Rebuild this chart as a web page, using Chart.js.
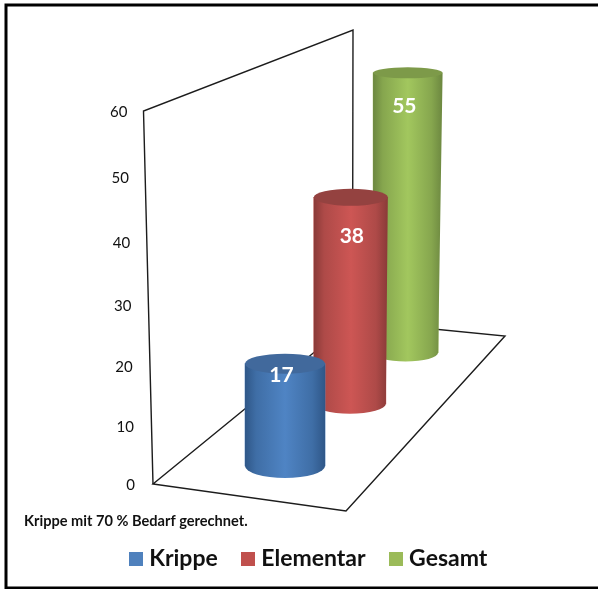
<!DOCTYPE html>
<html lang="de">
<head>
<meta charset="utf-8">
<style>html,body{margin:0;padding:0;background:#fff}canvas{display:block}</style>
<script src="https://cdn.jsdelivr.net/npm/chart.js@4/dist/chart.umd.js"></script>
</head>
<body>
<canvas id="c" width="598" height="589"></canvas>
<script>
// ---- data ----
const categories = ['Krippe', 'Elementar', 'Gesamt'];
const seriesValues = [17, 38, 55];
const depthSlots = [1, 2.08, 3.01];          // position of each cylinder along the floor
const footnote = 'Krippe mit 70 % Bedarf gerechnet.';
const tickStep = 10;
const axisMax = 60;

// ---- styles ----
const legendColors = ['#4f81bd', '#c0504d', '#9bbb59'];
const edgeColors = ['#2f5788', '#8a3a38', '#6c8740'];
const shoulderColors = ['#3f6ea6', '#ae4a48', '#86a64e'];
const midColors = ['#4f84c4', '#cd5654', '#a2c75e'];
const capColors = ['#41699c', '#944240', '#7d9a49'];
const barWidths = [80, 72, 65];
const topGrow = [0, 2, 4.5];
const topLean = [0, 1, 2.2];
const capRadii = [10, 8.5, 5.5];
const footRadii = [12, 10, 9];
const labelShift = [[-3.5, 12], [1, 39], [-3.5, 33]];
const depthAxes = [
  {min: -3.17, max: 58.83},
  {min: -14.94, max: 53.7},
  {min: -26.04, max: 47.3}
];
const wallPath = [[153, 484], [143.5, 111], [353, 30], [352.5, 321]];
const floorPath = [[352.5, 321], [153, 484], [346, 511], [505, 336], [352.5, 321]];

// Value axis that follows the slanted, receding back wall
class WallScale extends Chart.LinearScale {
  static id = 'wall';
  static defaults = Chart.LinearScale.defaults;
  fraction(v) {
    const t = (v - this.min) / (this.max - this.min);
    return t / (1 + 0.083 * (1 - t));
  }
  getPixelForValue(v) {
    return this.bottom - this.fraction(v) * (this.bottom - this.top);
  }
  getLabelItems(area) {
    const items = super.getLabelItems(area);
    items.forEach((item, i) => {
      const v = this.ticks[i] ? this.ticks[i].value : 0;
      item.options.translation[0] = 127.5 + 7.5 * (1 - this.fraction(v));
    });
    return items;
  }
}
Chart.register(WallScale);

function polyline(ctx, pts) {
  ctx.beginPath();
  pts.forEach((p, i) => i ? ctx.lineTo(p[0], p[1]) : ctx.moveTo(p[0], p[1]));
  ctx.stroke();
}

// Square legend swatches that sit close to their text
const legendSwatches = legendColors.map(color => {
  const c = document.createElement('canvas');
  c.width = 14;
  c.height = 14;
  const g = c.getContext('2d');
  g.fillStyle = color;
  g.fillRect(0, 0, 14, 14);
  return c;
});

const cylinderPlugin = {
  id: 'cylinders',
  beforeDraw(chart) {
    const ctx = chart.ctx;
    ctx.save();
    ctx.strokeStyle = '#000';
    ctx.lineWidth = 3;
    ctx.lineCap = 'butt';
    ctx.beginPath();
    ctx.moveTo(598, 5); ctx.lineTo(6, 5); ctx.lineTo(6, 588); ctx.lineTo(598, 588);
    ctx.stroke();
    ctx.restore();
  },
  beforeDatasetsDraw(chart) {
    const ctx = chart.ctx;
    ctx.save();
    ctx.strokeStyle = '#1c1c1c';
    ctx.lineWidth = 1.4;
    ctx.lineJoin = 'miter';
    polyline(ctx, wallPath);
    polyline(ctx, floorPath);
    ctx.restore();
  },
  afterDatasetDraw(chart, args) {
    const i = args.index;
    const bar = args.meta.data[0];
    const ctx = chart.ctx;
    const w = bar.width, x = bar.x, top = bar.y, base = bar.base;
    const tw = w + topGrow[i], tx = x + topLean[i];
    const left = x - w / 2, right = tx + tw / 2;
    const g = ctx.createLinearGradient(tx - tw / 2, 0, right, 0);
    g.addColorStop(0, edgeColors[i]);
    g.addColorStop(0.14, shoulderColors[i]);
    g.addColorStop(0.5, midColors[i]);
    g.addColorStop(0.84, shoulderColors[i]);
    g.addColorStop(1, edgeColors[i]);
    ctx.save();
    ctx.fillStyle = g;
    ctx.beginPath();
    ctx.moveTo(tx - tw / 2, top);
    ctx.lineTo(tx + tw / 2, top);
    ctx.lineTo(x + w / 2, base);
    ctx.ellipse(x, base, w / 2, footRadii[i], 0, 0, Math.PI);
    ctx.lineTo(left, base);
    ctx.closePath();
    ctx.fill();
    ctx.fillStyle = capColors[i];
    ctx.beginPath();
    ctx.ellipse(tx, top, tw / 2, capRadii[i], 0, 0, Math.PI * 2);
    ctx.fill();
    ctx.fillStyle = '#fff';
    ctx.font = 'bold 21px Lato';
    ctx.textAlign = 'center';
    ctx.textBaseline = 'middle';
    ctx.fillText(String(seriesValues[i]), tx + labelShift[i][0], top + labelShift[i][1]);
    ctx.restore();
  }
};

const datasets = categories.map((name, i) => ({
  label: name,
  data: [{x: depthSlots[i], y: seriesValues[i]}],
  backgroundColor: legendColors[i],
  borderWidth: 0,
  barThickness: barWidths[i],
  grouped: false,
  clip: false,
  yAxisID: 'depth' + i
}));

const scales = {
  x: {type: 'linear', display: false, offset: false, min: -1.367, max: 6.216},
  y: {
    type: 'wall',
    position: 'left',
    min: 0,
    max: axisMax,
    afterFit(scale) { scale.width = 119; },
    grid: {display: false, drawTicks: false},
    border: {display: false},
    ticks: {
      stepSize: tickStep,
      autoSkip: false,
      padding: 0,
      color: '#111',
      font: {family: 'Lato', size: 15}
    }
  }
};
depthAxes.forEach((r, i) => {
  scales['depth' + i] = {type: 'linear', display: false, min: r.min, max: r.max};
});

new Chart(document.getElementById('c'), {
  type: 'bar',
  data: {datasets},
  options: {
    responsive: false,
    animation: false,
    parsing: {xAxisKey: 'x', yAxisKey: 'y'},
    layout: {padding: {left: 24, right: 0, top: 112, bottom: 8.5}},
    scales,
    plugins: {
      tooltip: {enabled: false},
      title: {display: false},
      subtitle: {
        display: true,
        text: footnote,
        position: 'bottom',
        align: 'start',
        weight: 500,
        color: '#111',
        font: {family: 'Lato', size: 14.6, weight: 'bold'},
        padding: {top: 28, bottom: -12}
      },
      legend: {
        display: true,
        position: 'bottom',
        labels: {
          boxWidth: 14,
          boxHeight: 14,
          usePointStyle: true,
          pointStyleWidth: 3,
          padding: 29,
          color: '#111',
          font: {family: 'Lato', size: 23, weight: 'bold'},
          generateLabels(chart) {
            return Chart.defaults.plugins.legend.labels.generateLabels(chart)
              .map((item, i) => Object.assign(item, {pointStyle: legendSwatches[i]}));
          }
        }
      }
    }
  },
  plugins: [cylinderPlugin]
});
</script>
</body>
</html>
